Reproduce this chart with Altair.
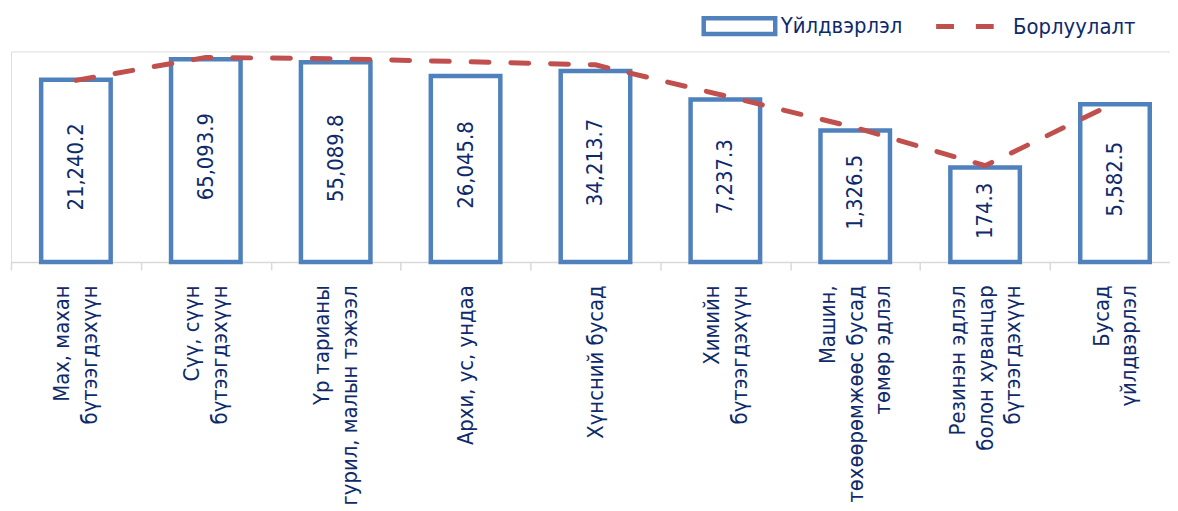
import altair as alt
import pandas as pd

categories = [
    "Мах, махан\nбүтээгдэхүүн",
    "Сүү, сүүн\nбүтээгдэхүүн",
    "Үр тарианы\nгурил, малын тэжээл",
    "Архи, ус, ундаа",
    "Хүнсний бусад",
    "Химийн\nбүтээгдэхүүн",
    "Машин,\nтөхөөрөмжөөс бусад\nтөмөр эдлэл",
    "Резинэн эдлэл\nболон хуванцар\nбүтээгдэхүүн",
    "Бусад\nүйлдвэрлэл",
]
production = [21240.2, 65093.9, 55089.8, 26045.8, 34213.7, 7237.3, 1326.5, 174.3, 5582.5]
sales = [20500, 72000, 67000, 57000, 48000, 8800, 1550, 194, 6000]
series_names = ["Үйлдвэрлэл", "Борлуулалт"]

NAVY = "#0E2A6B"
BLUE = "#4F81BD"
RED = "#C0504D"
GRAY = "#D9D9D9"
FONT = "DejaVu Sans Condensed, DejaVu Sans"
LH = 28

df = pd.DataFrame({"cat": categories, "prod": production, "sales": sales})

xenc = alt.X(
    "cat:N",
    sort=categories,
    title=None,
    scale=alt.Scale(range=[0, 1177], paddingInner=0, paddingOuter=0),
    axis=alt.Axis(
        labelAngle=270,
        labelAlign="right",
        labelBaseline="middle",
        labelExpr="split(datum.label, '\\n')",
        labelFont=FONT,
        labelFontSize=22,
        labelColor=NAVY,
        labelLineHeight=LH,
        labelPadding=15,
        labelLimit=400,
        labelOffset={
            "condition": [
                {"test": "length(split(datum.label, '\\n')) == 3", "value": -LH},
                {"test": "length(split(datum.label, '\\n')) == 2", "value": -LH / 2},
            ],
            "value": 0,
        },
        tickBand="extent",
        tickSize=8,
        tickColor=GRAY,
        tickWidth=1.5,
        domainColor=GRAY,
        domainWidth=1.5,
        grid=False,
    ),
)
yscale = alt.Scale(type="log", domain=[1, 100000], nice=False)

base = alt.Chart(df)

bars = base.mark_bar(fill="white", strokeWidth=4.5, width=70).transform_calculate(
    s1="'Үйлдвэрлэл'"
).encode(
    x=xenc,
    y=alt.Y("prod:Q", scale=yscale, axis=None, title=None),
    y2=alt.datum(1),
    stroke=alt.Stroke(
        "s1:N",
        scale=alt.Scale(domain=[series_names[0]], range=[BLUE]),
        legend=alt.Legend(
            title=None, orient="none", legendX=695, legendY=-64, padding=0,
            symbolType="M-1,-0.22H1V0.22H-1Z", symbolSize=5184,
            symbolStrokeWidth=4.5, symbolFillColor="white", symbolStrokeColor=BLUE,
            labelFont=FONT, labelFontSize=22, labelColor=NAVY, labelOffset=3,
        ),
    ),
)

line = base.mark_line(
    strokeDash=[18, 22], strokeCap="round", strokeWidth=5
).transform_calculate(s2="'Борлуулалт'").encode(
    x=xenc,
    y=alt.Y("sales:Q", scale=yscale, axis=None, title=None),
    stroke=alt.Stroke(
        "s2:N",
        scale=alt.Scale(domain=[series_names[1]], range=[RED]),
        legend=alt.Legend(
            title=None, orient="none", legendX=929, legendY=-60, padding=0,
            symbolType="stroke", symbolSize=4225, symbolDash=[18, 22],
            symbolStrokeWidth=5,
            labelFont=FONT, labelFontSize=22, labelColor=NAVY, labelOffset=10,
        ),
    ),
)

labels = base.mark_text(
    angle=270, fontSize=22, font=FONT, color=NAVY, align="center", baseline="middle", dx=4
).transform_calculate(mid="sqrt(datum.prod)").encode(
    x=xenc,
    y=alt.Y("mid:Q", scale=yscale, axis=None, title=None),
    text=alt.Text("prod:Q", format=",.1f"),
)

chart = (
    alt.layer(bars, line, labels)
    .resolve_scale(stroke="independent")
    .resolve_legend(stroke="independent")
    .properties(
        width=1167,
        height=212,
        autosize=alt.AutoSizeParams(type="none"),
        padding={"left": 3, "top": 42, "right": 0, "bottom": 246},
    )
    .configure_view(stroke=None)
    .configure(background="white")
)

chart.save("out.html", embed_options={"renderer": "svg", "actions": False})
